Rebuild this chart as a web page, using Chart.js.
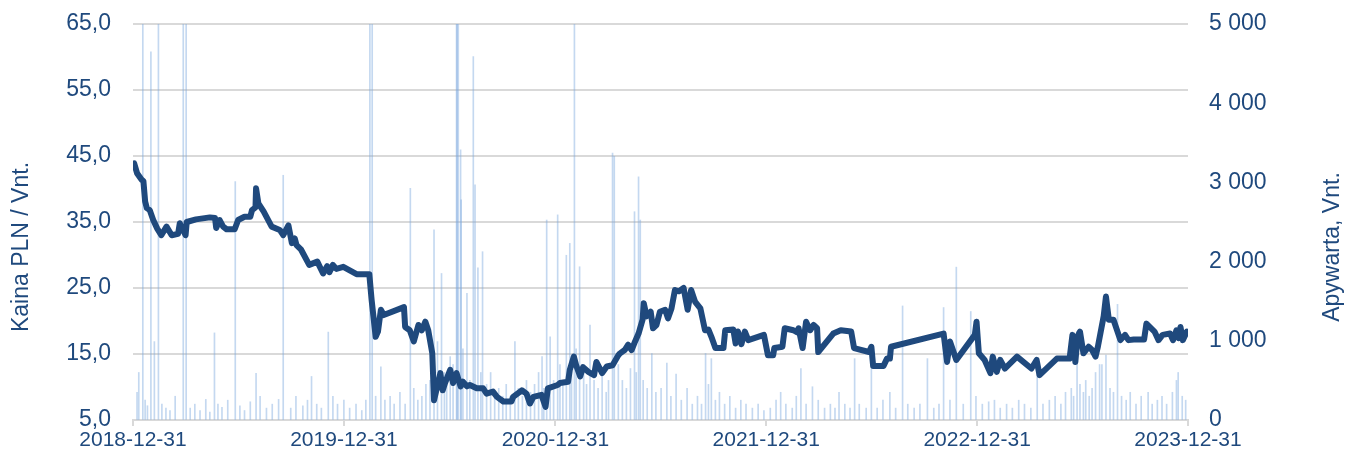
<!DOCTYPE html>
<html lang="lt">
  <head>
    <meta charset="UTF-8" />
    <title>Kaina ir apyvarta</title>
    <script src="https://cdn.jsdelivr.net/npm/chart.js@4.4.1/dist/chart.umd.min.js"></script>
    <style>
      body { margin: 0; background: #fff; }
    </style>
  </head>
  <body>
    <canvas id="myChart" width="1360" height="455"></canvas>
    <script>
      const xTickDates = ["2018-12-31", "2019-12-31", "2020-12-31", "2021-12-31", "2022-12-31", "2023-12-31"];
      const leftTitle = "Kaina PLN / Vnt.";
      const rightTitle = "Apywarta, Vnt.";

      const priceDates = [
        "2019-01-02","2019-01-07","2019-01-15","2019-01-18","2019-01-21","2019-01-24","2019-01-29","2019-02-04","2019-02-11","2019-02-18",
        "2019-02-27","2019-03-08","2019-03-19","2019-03-22","2019-04-01","2019-04-03","2019-04-19","2019-05-13","2019-05-22","2019-05-24",
        "2019-05-30","2019-06-05","2019-06-11","2019-06-25","2019-07-01","2019-07-12","2019-07-22","2019-07-25","2019-07-31","2019-08-01",
        "2019-08-05","2019-08-14","2019-08-28","2019-09-11","2019-09-17","2019-09-26","2019-10-02","2019-10-07","2019-10-10","2019-10-18",
        "2019-11-01","2019-11-15","2019-11-25","2019-12-02","2019-12-06","2019-12-12","2019-12-18","2019-12-30","2020-01-22","2020-02-13",
        "2020-02-17","2020-02-24","2020-02-28","2020-03-04","2020-03-09","2020-04-13","2020-04-15","2020-04-23","2020-04-30","2020-05-08",
        "2020-05-14","2020-05-20","2020-05-25","2020-06-01","2020-06-04","2020-06-15","2020-06-19","2020-06-23","2020-07-02","2020-07-07",
        "2020-07-13","2020-07-20","2020-07-24","2020-07-31","2020-08-05","2020-08-17","2020-08-28","2020-09-03","2020-09-14","2020-09-21",
        "2020-10-02","2020-10-16","2020-10-19","2020-11-03","2020-11-11","2020-11-17","2020-11-23","2020-12-07","2020-12-14","2020-12-18",
        "2021-01-04","2021-01-08","2021-01-22","2021-01-25","2021-02-01","2021-02-05","2021-02-12","2021-02-17","2021-02-26","2021-03-08",
        "2021-03-12","2021-03-22","2021-03-30","2021-04-09","2021-04-19","2021-04-22","2021-04-30","2021-05-06","2021-05-12","2021-05-18",
        "2021-05-24","2021-05-31","2021-06-02","2021-06-07","2021-06-14","2021-06-18","2021-06-24","2021-06-30","2021-07-09","2021-07-14",
        "2021-07-20","2021-07-26","2021-08-02","2021-08-10","2021-08-17","2021-08-23","2021-08-30","2021-09-08","2021-09-16","2021-09-22",
        "2021-09-28","2021-10-04","2021-10-18","2021-10-21","2021-11-04","2021-11-08","2021-11-12","2021-11-18","2021-11-24","2021-11-30",
        "2021-12-27","2022-01-03","2022-01-12","2022-01-14","2022-01-28","2022-02-01","2022-02-16","2022-02-22","2022-02-25","2022-03-04",
        "2022-03-10","2022-03-17","2022-03-23","2022-03-29","2022-03-31","2022-04-26","2022-05-09","2022-05-27","2022-06-01","2022-06-27",
        "2022-07-01","2022-07-04","2022-07-22","2022-07-28","2022-08-02","2022-08-04","2022-11-03","2022-11-09","2022-11-14","2022-11-25",
        "2022-12-27","2022-12-30","2023-01-03","2023-01-13","2023-01-23","2023-01-27","2023-02-03","2023-02-09","2023-02-17","2023-03-10",
        "2023-04-04","2023-04-13","2023-04-18","2023-05-18","2023-06-09","2023-06-14","2023-06-19","2023-06-23","2023-06-27","2023-07-03",
        "2023-07-12","2023-07-18","2023-07-24","2023-07-28","2023-08-07","2023-08-11","2023-08-16","2023-08-24","2023-09-05","2023-09-13",
        "2023-09-19","2023-09-28","2023-10-16","2023-10-20","2023-11-03","2023-11-10","2023-11-17","2023-11-30","2023-12-05","2023-12-11",
        "2023-12-15","2023-12-18","2023-12-22","2023-12-29"
      ];
      const priceValues = [
        43.9,42.4,41.4,41.2,38.1,37.1,36.8,35.3,34.0,33.0,
        34.3,33.0,33.2,34.8,33.0,35.0,35.4,35.7,35.6,34.1,
        35.3,34.3,33.9,33.9,35.3,35.8,35.8,36.8,37.2,40.1,
        37.8,36.6,34.3,33.8,33.0,34.5,31.8,32.5,31.5,30.8,
        28.5,29.0,27.2,28.3,27.4,28.5,27.9,28.2,27.1,27.1,
        23.2,17.6,18.4,21.7,20.9,22.1,19.1,18.6,16.9,19.4,
        18.6,19.9,18.6,15.1,8.0,12.1,9.5,10.6,12.6,10.6,
        12.1,10.1,10.8,10.1,10.3,9.8,9.8,9.0,9.3,8.5,
        7.8,7.8,8.5,9.5,9.0,7.5,8.5,8.8,7.0,9.8,
        10.3,10.6,10.8,12.6,14.6,13.3,11.6,13.0,12.3,11.8,
        13.8,12.1,13.1,13.3,14.8,15.1,15.6,16.4,15.6,16.9,
        18.1,20.2,22.7,20.7,21.4,18.9,19.4,21.4,21.7,20.4,
        21.9,24.7,24.5,25.0,21.7,24.7,22.9,21.9,18.6,18.7,
        17.4,15.9,15.9,18.6,18.7,16.6,18.4,16.5,18.4,17.1,
        17.9,14.8,14.8,15.9,16.1,18.9,18.6,18.3,18.9,15.9,
        19.9,18.6,19.4,18.9,15.3,18.1,18.6,18.4,15.9,15.3,
        16.1,13.2,13.2,14.3,14.3,16.1,18.1,13.8,16.9,14.1,
        17.9,19.9,15.1,14.1,12.1,14.6,12.3,14.1,12.8,14.6,
        12.8,14.1,11.8,14.3,14.3,17.9,13.8,17.7,18.4,15.1,
        16.1,15.6,14.6,16.1,20.7,23.7,20.2,20.2,17.1,17.9,
        17.1,17.2,17.2,19.6,18.4,17.1,17.9,18.1,17.1,18.6,
        17.4,19.1,17.1,18.4
      ];

      const volumeDates = [
        "2019-01-07","2019-01-10","2019-01-17","2019-01-21","2019-01-25","2019-01-31","2019-02-06","2019-02-13","2019-02-19","2019-02-26",
        "2019-03-05","2019-03-14","2019-03-28","2019-04-02","2019-04-09","2019-04-17","2019-04-26","2019-05-06","2019-05-13","2019-05-21",
        "2019-05-27","2019-06-03","2019-06-13","2019-06-26","2019-07-04","2019-07-12","2019-07-22","2019-08-01","2019-08-08","2019-08-19",
        "2019-08-29","2019-09-09","2019-09-17","2019-09-30","2019-10-09","2019-10-21","2019-10-29","2019-11-05","2019-11-14","2019-11-22",
        "2019-12-04","2019-12-12","2019-12-20","2019-12-31","2020-01-10","2020-01-21","2020-01-31","2020-02-07","2020-02-14","2020-02-18",
        "2020-02-24","2020-03-04","2020-03-11","2020-03-20","2020-03-27","2020-04-06","2020-04-15","2020-04-24","2020-04-30","2020-05-07",
        "2020-05-14","2020-05-21","2020-05-28","2020-06-04","2020-06-10","2020-06-17","2020-06-22","2020-06-26","2020-07-02","2020-07-07",
        "2020-07-13","2020-07-14","2020-07-16","2020-07-20","2020-07-21","2020-07-24","2020-07-31","2020-08-05","2020-08-11","2020-08-14",
        "2020-08-19","2020-08-24","2020-08-27","2020-09-03","2020-09-10","2020-09-17","2020-09-24","2020-10-01","2020-10-07","2020-10-14",
        "2020-10-22","2020-10-28","2020-11-04","2020-11-11","2020-11-18","2020-11-25","2020-12-02","2020-12-08","2020-12-11","2020-12-16",
        "2020-12-22","2020-12-28","2021-01-04","2021-01-08","2021-01-13","2021-01-19","2021-01-25","2021-01-28","2021-02-02","2021-02-05",
        "2021-02-11","2021-02-18","2021-02-23","2021-03-01","2021-03-08","2021-03-15","2021-03-22","2021-03-29","2021-04-02","2021-04-09",
        "2021-04-12","2021-04-19","2021-04-26","2021-05-03","2021-05-10","2021-05-17","2021-05-20","2021-05-24","2021-05-27","2021-06-01",
        "2021-06-08","2021-06-16","2021-06-23","2021-07-02","2021-07-12","2021-07-19","2021-07-28","2021-08-06","2021-08-16","2021-08-25",
        "2021-09-03","2021-09-10","2021-09-17","2021-09-22","2021-09-27","2021-10-04","2021-10-11","2021-10-20","2021-10-29","2021-11-08",
        "2021-11-17","2021-11-26","2021-12-07","2021-12-17","2021-12-27","2022-01-07","2022-01-17","2022-01-25","2022-02-03","2022-02-14",
        "2022-02-21","2022-03-01","2022-03-10","2022-03-21","2022-03-31","2022-04-11","2022-04-21","2022-04-29","2022-05-06","2022-05-16",
        "2022-05-25","2022-06-02","2022-06-10","2022-06-22","2022-07-01","2022-07-11","2022-07-21","2022-08-02","2022-08-12","2022-08-24",
        "2022-09-02","2022-09-13","2022-09-23","2022-10-06","2022-10-17","2022-10-26","2022-11-03","2022-11-14","2022-11-25","2022-12-07",
        "2022-12-20","2022-12-29","2023-01-09","2023-01-20","2023-01-30","2023-02-09","2023-02-20","2023-03-02","2023-03-13","2023-03-23",
        "2023-04-03","2023-04-14","2023-04-24","2023-05-05","2023-05-15","2023-05-25","2023-06-02","2023-06-12","2023-06-16","2023-06-22",
        "2023-06-27","2023-07-03","2023-07-07","2023-07-13","2023-07-18","2023-07-24","2023-07-31","2023-08-04","2023-08-11","2023-08-18",
        "2023-08-24","2023-08-31","2023-09-07","2023-09-15","2023-09-22","2023-10-02","2023-10-11","2023-10-23","2023-10-30","2023-11-08",
        "2023-11-16","2023-11-24","2023-12-04","2023-12-11","2023-12-14","2023-12-21","2023-12-27"
      ];
      const volumeValues = [
        350,600,5600,250,180,4650,990,5600,200,150,
        120,300,5600,5600,150,200,120,260,100,1100,
        200,160,250,3010,180,120,230,590,300,150,
        200,260,3090,150,300,180,250,550,200,150,
        1110,300,200,250,150,200,120,250,5600,5600,
        300,670,250,300,200,350,200,2925,400,250,
        300,450,500,2400,990,1850,600,450,800,700,
        5600,5600,5600,3410,2780,900,1600,500,4590,2970,
        1920,600,2125,450,600,350,400,300,450,300,
        990,400,300,500,350,450,600,800,400,2525,
        1050,500,2590,700,500,2080,2230,800,5600,900,
        1935,600,450,1200,500,400,600,350,500,3370,
        3330,700,500,400,650,2630,600,3070,2525,500,
        400,840,350,400,720,300,580,250,400,200,
        300,200,840,450,775,250,350,200,300,150,
        250,200,150,200,120,150,250,350,200,150,
        300,650,200,420,250,150,200,150,350,200,
        150,775,200,150,650,150,250,350,150,1440,
        200,150,200,775,150,200,1420,250,1930,200,
        1370,300,200,230,250,150,200,150,250,200,
        150,600,200,250,300,200,350,400,300,1120,
        450,350,500,300,400,600,700,700,820,400,
        350,1460,300,250,350,200,300,350,200,250,
        300,200,350,500,600,300,250
      ];

      const dayMs = 86400000;
      const startMs = Date.parse(xTickDates[0]);
      const toDay = d => (Date.parse(d) - startMs) / dayMs;
      const xTicks = xTickDates.map(toDay);

      const textColor = "#1F497D";
      const gridColor = "#D9D9D9";
      const fontFamily = "'Liberation Sans', Arial, sans-serif";

      // both axis titles read bottom-to-top, so draw them by hand
      const axisTitles = {
        id: "axisTitles",
        afterDraw(chart) {
          const c = chart.ctx;
          c.save();
          c.fillStyle = textColor;
          c.font = "23px " + fontFamily;
          c.textAlign = "center";
          c.textBaseline = "middle";
          [[22, leftTitle], [1333, rightTitle]].forEach(([x, text]) => {
            c.save();
            c.translate(x, 247);
            c.rotate(-Math.PI / 2);
            c.fillText(text, 0, 0);
            c.restore();
          });
          c.restore();
        }
      };

      // fixed box sizes so the plot area lands where the original has it
      const fixWidth = w => scale => {
        scale.width = w;
        scale.paddingTop = 0;
        scale.paddingBottom = 0;
      };

      const ctx = document.getElementById("myChart").getContext("2d");
      const chart = new Chart(ctx, {
        type: "bar",
        data: {
          datasets: [
            {
              type: "line",
              label: "Kaina",
              data: priceDates.map((d, i) => ({ x: toDay(d), y: priceValues[i] })),
              borderColor: "#1F497D",
              borderWidth: 6,
              borderJoinStyle: "round",
              borderCapStyle: "round",
              pointRadius: 0,
              tension: 0,
              yAxisID: "y",
              order: 0
            },
            {
              type: "bar",
              label: "Apyvarta",
              data: volumeDates.map((d, i) => ({ x: toDay(d), y: volumeValues[i] })),
              backgroundColor: "rgba(125, 168, 222, 0.45)",
              barThickness: 1,
              yAxisID: "y1",
              order: 1
            }
          ]
        },
        options: {
          responsive: false,
          animation: false,
          layout: { padding: { top: 24, left: 0, right: 0, bottom: 0 } },
          plugins: { legend: { display: false }, tooltip: { enabled: false } },
          scales: {
            x: {
              type: "linear",
              min: 0,
              max: xTicks[xTicks.length - 1],
              offset: false,
              afterBuildTicks: scale => {
                scale.ticks = xTicks.map(v => ({ value: v }));
              },
              afterFit: scale => { scale.height = 35; },
              grid: { drawOnChartArea: false, offset: false, color: gridColor, lineWidth: 2, tickLength: 6 },
              border: { color: gridColor, width: 2 },
              ticks: {
                color: textColor,
                font: { family: fontFamily, size: 21 },
                padding: 2,
                maxRotation: 0,
                autoSkip: false,
                callback: (v, i) => xTickDates[i]
              }
            },
            y: {
              position: "left",
              min: 5,
              max: 65,
              afterFit: fixWidth(133),
              grid: { color: gridColor, lineWidth: 2, drawTicks: false },
              border: { display: false },
              ticks: {
                stepSize: 10,
                color: textColor,
                font: { family: fontFamily, size: 23 },
                padding: 22,
                callback: v => v.toFixed(1).replace(".", ",")
              }
            },
            y1: {
              position: "right",
              min: 0,
              max: 5000,
              afterFit: fixWidth(172),
              grid: { drawOnChartArea: false, drawTicks: false },
              border: { display: false },
              ticks: {
                stepSize: 1000,
                color: textColor,
                font: { family: fontFamily, size: 23 },
                padding: 21,
                callback: v => String(v).replace(/\B(?=(\d{3})+(?!\d))/g, " ")
              }
            }
          }
        },
        plugins: [axisTitles]
      });
    </script>
  </body>
</html>
